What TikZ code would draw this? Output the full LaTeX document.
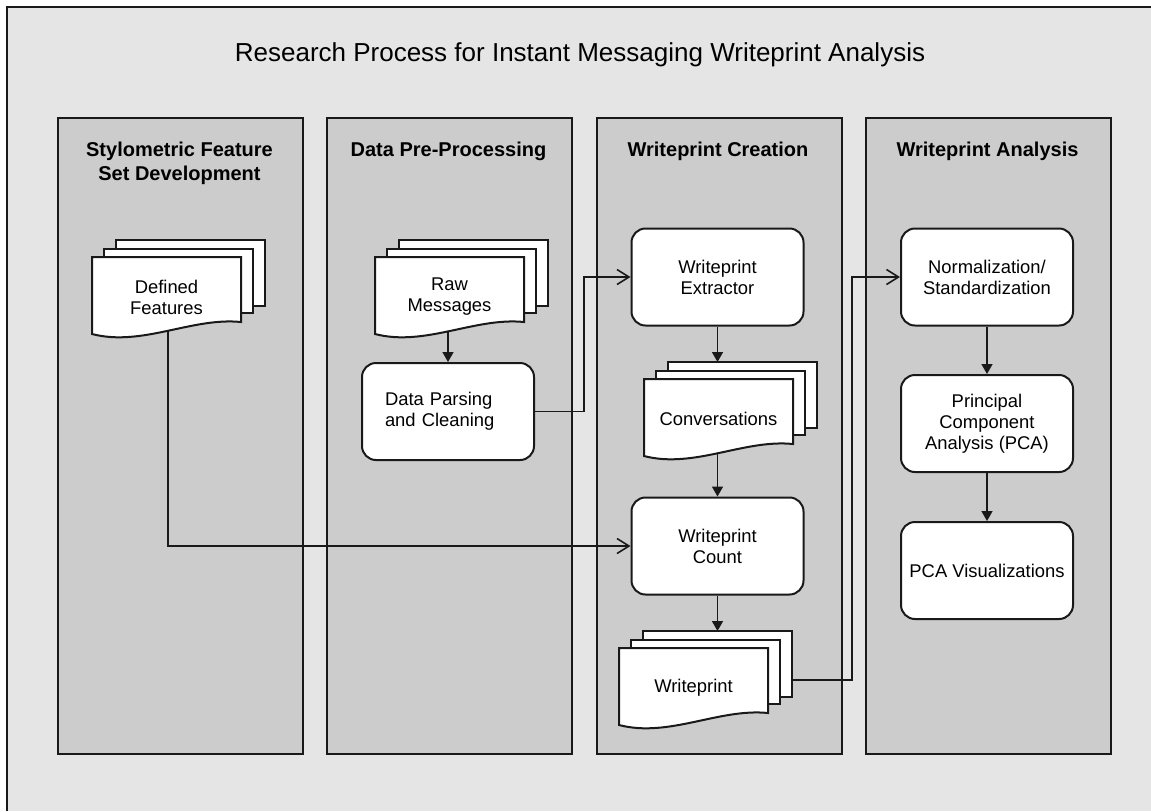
\documentclass[tikz,border=0pt]{standalone}
\usepackage{fontspec}
\setmainfont{Liberation Sans}
\usepackage{tikz}
\usetikzlibrary{arrows.meta}
\usetikzlibrary{calc}

\definecolor{pagegray}{gray}{0.9}
\definecolor{lanegray}{gray}{0.8}
\definecolor{inkgray}{gray}{0.1}

\tikzstyle{flow} = [draw=inkgray, line width=0.8pt, -{Triangle[length=5pt,width=5.5pt]}]
\tikzstyle{feed} = [draw=inkgray, line width=0.8pt, -{Straight Barb[length=6pt,width=7.5pt]}]

% stack of three pages: name, left x, top y, text
\newcommand{\docstack}[4]{%
	\draw[docpage] (#2+24,#3-17) rectangle (#2+173,#3+49);
	\draw[docpage] (#2+12,#3-8) rectangle (#2+161,#3+56);
	\draw[docpage] (#2,#3) -- (#2+149,#3) -- (#2+149,#3+65) .. controls (#2+100,#3+60) and (#2+50,#3+90) .. (#2,#3+77) -- cycle;
	\node[doctext] (#1) at (#2+74.5,#3+40) {#4};
	\coordinate (#1-top) at (#2+98,#3-17);
	\coordinate (#1-bottom) at (#2+76,#3+74);
	\coordinate (#1-right) at (#2+173,#3+32);
}

\begin{document}
\begin{tikzpicture}[x=0.5pt, y=-0.5pt,
			lane/.style={draw=inkgray, fill=lanegray, line width=1pt, anchor=north west, minimum width=122.5pt, minimum height=318pt, inner sep=0pt},
			lanetitle/.style={align=center, font=\fontsize{10}{12}\selectfont\bfseries},
			process/.style={draw=inkgray, fill=white, line width=1pt, rounded corners=7pt, minimum width=86pt, minimum height=48.5pt, align=center, inner sep=2pt, font=\fontsize{9.2}{10.5}\selectfont},
			docpage/.style={draw=inkgray, fill=white, line width=1pt},
			doctext/.style={align=center, inner sep=1pt, font=\fontsize{9.2}{10.5}\selectfont}]
	\useasboundingbox (0,0) rectangle (1151,811);
	\fill[pagegray] (7,7) rectangle (1151,811);
	\draw[inkgray, line width=1pt] (7,811) -- (7,7) -- (1151,7);

	\node[font=\fontsize{13}{15}\selectfont] (heading) at (580,55) {Research Process for Instant Messaging Writeprint Analysis};

	% the four phases
	\node[lane] (lane1) at (57,117) {};
	\node[lane] (lane2) at (326,117) {};
	\node[lane] (lane3) at (596,117) {};
	\node[lane] (lane4) at (865,117) {};

	\node[lanetitle] (title1) at (179.5,163) {Stylometric Feature\\Set Development};
	\node[lanetitle] (title2) at (448.5,151) {Data Pre-Processing};
	\node[lanetitle] (title3) at (718,151) {Writeprint Creation};
	\node[lanetitle] (title4) at (987.5,151) {Writeprint Analysis};

	\docstack{feat}{92}{257}{Defined\\Features}
	\docstack{raw}{375}{257}{Raw\\Messages}

	\node[process, text width=63pt, align=left](parse) at (448,411.5) {Data Parsing\\and Cleaning};
	\draw[flow] (parse |- raw-bottom) -- (parse);

	\node[process](extract) at (717.5,277) {Writeprint\\Extractor};
	\draw[feed] (parse.east) -- ++(49,0) |- (extract.west);

	\docstack{conv}{644}{379}{Conversations}
	\draw[flow] (extract) -- (extract |- conv-top);

	\node[process](count) at (717.5,546) {Writeprint\\Count};
	\draw[flow] (count |- conv-bottom) -- (count);
	\draw[feed] (feat-bottom) |- (count.west);

	\docstack{wprint}{619}{648}{Writeprint}
	\draw[flow] (count) -- (count |- wprint-top);

	\node[process](norm) at (987,277) {Normalization/\\Standardization};
	\draw[feed] (wprint-right) -- ++(60,0) |- (norm.west);

	\node[process](pca) at (987,423.5) {Principal\\Component\\Analysis (PCA)};
	\draw[flow] (norm) -- (pca);

	\node[process](pcavis) at (987,570.5) {PCA Visualizations};
	\draw[flow] (pca) -- (pcavis);
\end{tikzpicture}
\end{document}
